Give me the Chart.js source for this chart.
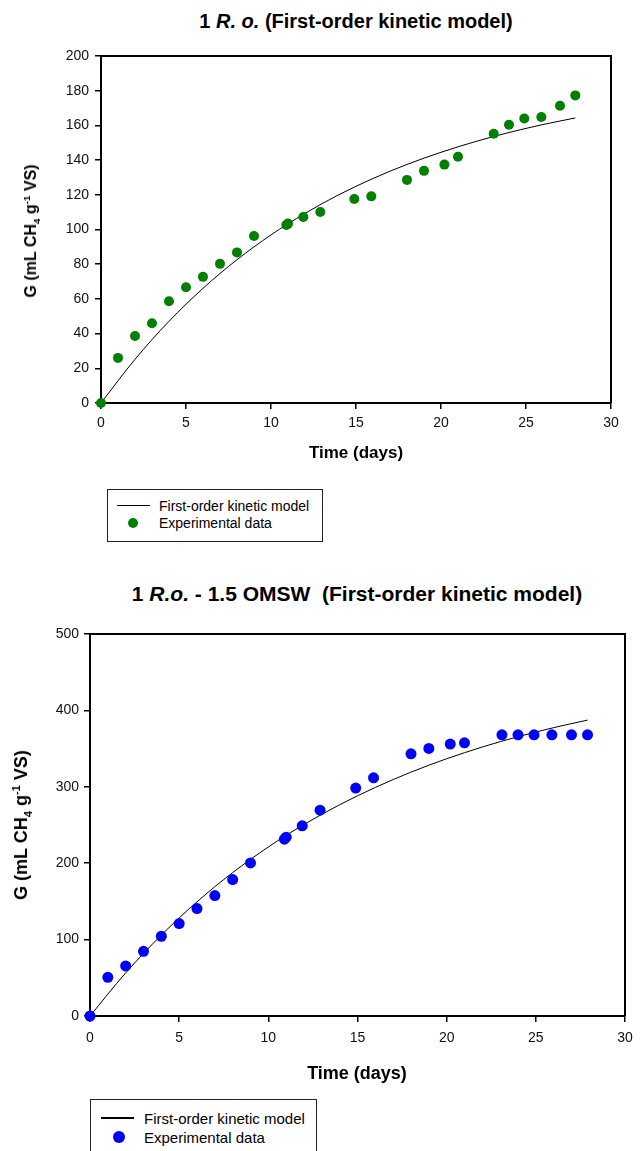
<!DOCTYPE html>
<html>
<head>
<meta charset="utf-8">
<script src="https://cdn.jsdelivr.net/npm/chart.js@4.4.1/dist/chart.umd.min.js"></script>
<style>
  body { margin: 0; background: #fff; font-family: "Liberation Sans", Arial, sans-serif; color: #000; }
  #page { position: relative; width: 641px; height: 1151px; overflow: hidden; }
  canvas { position: absolute; left: 0; }
  .t { position: absolute; white-space: nowrap; line-height: 1; }
  .ctr { transform: translateX(-50%); }
  .ytitle { position: absolute; white-space: nowrap; line-height: 1; font-weight: bold; transform: translate(-50%, -50%) rotate(-90deg); }
  .ytitle sub, .ytitle sup { font-size: 0.62em; line-height: 0; }
  .legend { position: absolute; border: 1px solid #222; box-sizing: border-box; background: #fff; }
  .swatch-line { position: absolute; background: #000; }
  .swatch-dot { position: absolute; border-radius: 50%; }
  .lg-text { position: absolute; white-space: nowrap; line-height: 1; transform: translateY(-50%); }
</style>
</head>
<body>
<div id="page">
  <!-- chart 1: R. o. alone -->
  <div class="t ctr" style="left:356px; top:11px; font-size:20px; font-weight:bold;">1 <i>R. o.</i> (First-order kinetic model)</div>
  <canvas id="chart-ro" width="641" height="470" style="top:0"></canvas>
  <div class="ytitle" style="left:31px; top:231px; font-size:16px;">G (mL CH<sub>4</sub> g<sup>-1</sup> VS)</div>
  <div class="t ctr" style="left:356px; top:444px; font-size:17px; font-weight:bold;">Time (days)</div>
  <div class="legend" style="left:107px; top:489px; width:216px; height:53px;"></div>
  <div class="swatch-line" style="left:117px; top:505px; width:33px; height:1px;"></div>
  <div class="lg-text" style="left:159px; top:506px; font-size:14px;">First-order kinetic model</div>
  <div class="swatch-dot" style="left:128px; top:518px; width:10px; height:10px; background:#008000;"></div>
  <div class="lg-text" style="left:159px; top:523px; font-size:14px;">Experimental data</div>

  <!-- chart 2: R.o. + OMSW -->
  <div class="t ctr" style="left:357px; top:583px; font-size:21px; font-weight:bold;">1 <i>R.o.</i> - 1.5 OMSW&nbsp; (First-order kinetic model)</div>
  <canvas id="chart-omsw" width="641" height="510" style="top:560px"></canvas>
  <div class="ytitle" style="left:21px; top:825px; font-size:18px;">G (mL CH<sub>4</sub> g<sup>-1</sup> VS)</div>
  <div class="t ctr" style="left:357px; top:1064px; font-size:18px; font-weight:bold;">Time (days)</div>
  <div class="legend" style="left:90px; top:1099px; width:227px; height:70px;"></div>
  <div class="swatch-line" style="left:101px; top:1117px; width:33px; height:2px;"></div>
  <div class="lg-text" style="left:144px; top:1118px; font-size:15px;">First-order kinetic model</div>
  <div class="swatch-dot" style="left:113px; top:1131px; width:12px; height:12px; background:#0000ff;"></div>
  <div class="lg-text" style="left:144px; top:1137px; font-size:15px;">Experimental data</div>
</div>

<script>
// sampling days (same schedule for both digesters)
const DAYS = [0, 1, 2, 3, 4, 5, 6, 7, 8, 9, 10.9, 11, 11.9, 12.9, 14.9, 15.9, 18, 19, 20.2, 21, 23.1, 24, 24.9, 25.9, 27, 27.9];

// cumulative methane yield, mL CH4 / g VS
const RO_G = [0, 26, 38.6, 46, 58.6, 66.7, 72.7, 80.2, 86.8, 96.3, 102.6, 103.4, 107.2, 110.1, 117.6, 119.1, 128.6, 133.8, 137.4, 141.9, 155.2, 160.4, 164, 164.8, 171.3, 177.3];
const RO_OMSW_G = [0, 50.7, 65.5, 84.7, 104.4, 121, 140.6, 157.6, 178.6, 200.4, 231.5, 234, 248.9, 269.4, 298.3, 311.8, 343.2, 350.2, 355.9, 357.6, 368.1, 368.1, 368.1, 368.1, 368.1, 368.1];

// fitted first-order curves
const MODEL_DAYS = [0, 2, 4, 6, 8, 10, 12, 14, 16, 18, 20, 22, 24, 26, 27.9];
const RO_MODEL = [0, 25.2, 47.1, 66.1, 82.6, 96.9, 109.3, 120.1, 129.4, 137.5, 144.5, 150.6, 155.9, 160.5, 164.3];
const RO_OMSW_MODEL = [0, 56.4, 105.9, 149.5, 187.7, 221.2, 250.7, 276.5, 299.2, 319.2, 336.7, 352.1, 365.6, 377.4, 387.3];

Chart.defaults.font.family = '"Liberation Sans", Arial, sans-serif';

// top + right sides of the plot box
const boxFrame = {
  id: "boxFrame",
  afterDraw(chart) {
    const { ctx, chartArea: a } = chart;
    ctx.save();
    ctx.strokeStyle = "#000";
    ctx.lineWidth = 2;
    ctx.beginPath();
    ctx.moveTo(a.left, a.top);
    ctx.lineTo(a.right, a.top);
    ctx.lineTo(a.right, a.bottom);
    ctx.stroke();
    ctx.restore();
  },
};

const toPoints = (xs, ys) => xs.map((x, i) => ({ x, y: ys[i] }));

function buildChart(id, cfg) {
  const axisTicks = { drawOnChartArea: false, drawTicks: true, tickLength: 6, color: "#000", lineWidth: 1.5 };
  return new Chart(document.getElementById(id), {
    type: "scatter",
    data: {
      datasets: [
        {
          label: "First-order kinetic model",
          type: "line",
          data: toPoints(MODEL_DAYS, cfg.model),
          borderColor: "#000",
          borderWidth: 1,
          pointRadius: 0,
          cubicInterpolationMode: "monotone",
          fill: false,
          order: 2,
        },
        {
          label: "Experimental data",
          data: toPoints(DAYS, cfg.values),
          backgroundColor: cfg.color,
          borderWidth: 0,
          pointRadius: cfg.radius,
          pointHoverRadius: cfg.radius,
          clip: false,
          order: 1,
        },
      ],
    },
    options: {
      responsive: false,
      animation: false,
      events: [],
      layout: { padding: cfg.padding },
      plugins: { legend: { display: false }, tooltip: { enabled: false } },
      scales: {
        x: {
          type: "linear", min: 0, max: 30,
          ticks: { stepSize: 5, color: "#111", font: { size: 14 }, padding: cfg.xPad, maxRotation: 0 },
          grid: axisTicks,
          border: { display: true, color: "#000", width: 2 },
          afterFit: (s) => { s.height = 40; },
        },
        y: {
          min: 0, max: cfg.yMax,
          ticks: { stepSize: cfg.yStep, color: "#111", font: { size: 14 }, padding: cfg.yPad },
          grid: axisTicks,
          border: { display: true, color: "#000", width: 2 },
          afterFit: (s) => { s.width = cfg.left; },
        },
      },
    },
    plugins: [boxFrame],
  });
}

buildChart("chart-ro", {
  values: RO_G, model: RO_MODEL, color: "#008000", radius: 5,
  yMax: 200, yStep: 20, left: 101, xPad: 6, yPad: 6,
  padding: { top: 56, right: 30, bottom: 27, left: 0 },
});

buildChart("chart-omsw", {
  values: RO_OMSW_G, model: RO_OMSW_MODEL, color: "#0000ff", radius: 5.5,
  yMax: 500, yStep: 100, left: 90, xPad: 8, yPad: 5,
  padding: { top: 74, right: 16, bottom: 14, left: 0 },
});
</script>
</body>
</html>
